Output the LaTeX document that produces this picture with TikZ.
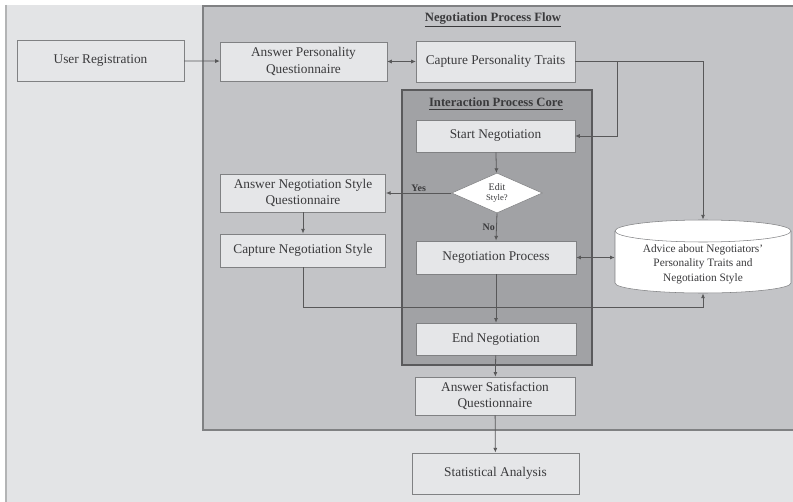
\documentclass[tikz,border=0pt]{standalone}
\usepackage{fontspec}
\setmainfont{Liberation Serif}
\usetikzlibrary{shapes.geometric,arrows.meta}
\definecolor{pagebg}{HTML}{E3E4E6}
\definecolor{flowbg}{HTML}{C3C4C7}
\definecolor{corebg}{HTML}{A1A2A5}
\definecolor{boxbg}{HTML}{E5E6E8}
\definecolor{edge}{HTML}{808183}
\definecolor{ink}{HTML}{3A3A3C}

\begin{document}
\begin{tikzpicture}[x=0.75pt,y=-0.75pt,color=ink,>={Latex[length=3.5pt,width=3pt]},
  box/.style={draw=edge,fill=boxbg,text=ink,align=center,inner sep=1pt,
    font=\fontsize{10}{12.5}\selectfont},
  title/.style={font=\fontsize{9.5}{11}\selectfont\bfseries,text=ink},
  link/.style={draw=ink!85,line width=0.6pt},
  lbl/.style={font=\fontsize{7.5}{9}\selectfont\bfseries,text=ink,inner sep=1pt}]
\useasboundingbox (0,0) rectangle (793,502);
\clip (0,0) rectangle (793,502);
\fill[white] (0,0) rectangle (793,502);
\fill[pagebg] (6,5) rectangle (793,502);
\draw[edge!60,line width=1pt] (6,5) -- (6,502);
\draw[edge,fill=flowbg,line width=0.8pt] (203,6) rectangle (800,430);
\draw[edge!70!black,fill=corebg,line width=1pt] (402,90) rectangle (592,365);

\node[title] (flowtitle) at (493,20) {\underline{Negotiation Process Flow}};
\node[title] (coretitle) at (496,104) {\underline{Interaction Process Core}};

\node[box,minimum width=125pt,minimum height=31pt] (ur) at (100.5,60.5) {User Registration};
\node[box,minimum width=125pt,minimum height=29pt] (apq) at (303.5,61.5) {Answer Personality\\Questionnaire};
\node[box,minimum width=119pt,minimum height=31pt] (cpt) at (495.5,61.5) {Capture Personality Traits};
\node[box,minimum width=119pt,minimum height=24pt] (sn) at (495.5,136) {Start Negotiation};
\node[diamond,draw=edge,fill=white,aspect=2.25,inner sep=0pt,minimum width=68pt,minimum height=30pt,
  align=center,font=\fontsize{7.5}{8}\selectfont] (dec) at (497,193) {Edit\\{\fontsize{6.5}{7.5}\selectfont Style?}};
\node[box,minimum width=124pt,minimum height=28.5pt] (ansq) at (303,193) {Answer Negotiation Style\\Questionnaire};
\node[box,minimum width=124pt,minimum height=25pt] (cns) at (303,250.5) {Capture Negotiation Style};
\node[box,minimum width=120pt,minimum height=25pt] (np) at (496,257.5) {Negotiation Process};
\node[box,minimum width=120pt,minimum height=24pt] (en) at (496,339) {End Negotiation};
\node[box,minimum width=120pt,minimum height=28.5pt] (asq) at (495,396) {Answer Satisfaction\\Questionnaire};
\node[box,minimum width=125pt,minimum height=31pt] (sa) at (495.5,473.5) {Statistical Analysis};

\node[minimum width=132pt,minimum height=55pt,inner sep=0pt] (adv) at (703,256.5) {};
\draw[edge,fill=white] (615,231) -- (615,283) arc[start angle=180,end angle=360,x radius=66pt,y radius=7.5pt]
  -- (791,231) arc[start angle=0,end angle=180,x radius=66pt,y radius=8.25pt] -- cycle;
\draw[edge] (615,231) arc[start angle=180,end angle=360,x radius=66pt,y radius=8.25pt];
\node[align=center,inner sep=0pt,font=\fontsize{8.5}{11}\selectfont] (advtext) at (703,264)
  {Advice about Negotiators'\\Personality Traits and\\Negotiation Style};

\coordinate (br) at (617,61.5);
\draw[link,->] (ur) -- (apq);
\draw[link,<->] (apq) -- (cpt);
\draw[link,->] (cpt.east) -| (adv.north);
\draw[link,->] (br) |- (sn.east);
\draw[link,->] (sn) -- (dec);
\draw[link,->] (dec.west) -- node[lbl,above] {Yes} (ansq.east);
\draw[link,->] (dec.south) -- node[lbl,left] {No} (np.north);
\draw[link,->] (ansq) -- (cns);
\draw[link,->] (cns.south) -- ++(0,40) -| (adv.south);
\draw[link,<->] (np.east) -- (np.east -| adv.west);
\draw[link,->] (np) -- (en);
\draw[link,->] (en) -- (asq);
\draw[link,->] (asq) -- (sa);
\end{tikzpicture}
\end{document}
